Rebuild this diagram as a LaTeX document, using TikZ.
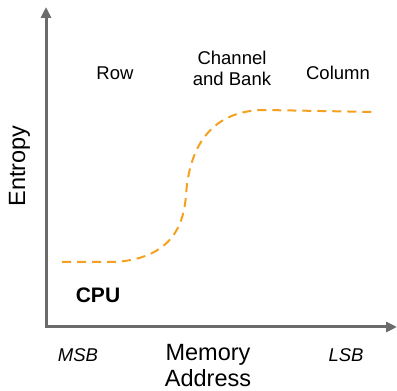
\documentclass[tikz,border=0pt]{standalone}
\usepackage{fontspec}
\setmainfont{Liberation Sans}
\usetikzlibrary{arrows.meta}
\definecolor{axisgray}{HTML}{6B6B6B}
\definecolor{curveorange}{HTML}{F5A01E}

\begin{document}
\begin{tikzpicture}[x=1pt,y=1pt,
		lbl/.style={inner sep=0pt, font=\fontsize{18.5}{21}\selectfont},
		biglbl/.style={inner sep=0pt, font=\fontsize{23.5}{26}\selectfont},
		axis/.style={line width=3pt, draw=axisgray, {Triangle[width=10pt,length=11pt]}-{Triangle[width=10pt,length=11pt]}},
		entropy/.style={curveorange, line width=2pt, dash pattern=on 9pt off 6pt}]
		\useasboundingbox (0,0) rectangle (397,391);
		% axes
		\coordinate (o) at (46,64);
		\coordinate (ytop) at (46,384);
		\coordinate (xend) at (397,64);
		\draw[axis] (ytop) -- (o) -- (xend);
		% entropy curve
		\coordinate (c0) at (62,129);
		\coordinate (c1) at (115,129);
		\coordinate (c2) at (186,196);
		\coordinate (c3) at (265,281);
		\coordinate (c4) at (376,279);
		\draw[entropy] (c0) -- (c1) .. controls (175,133) and (184,170) .. (c2)
			.. controls (190,255) and (220,281) .. (c3) -- (c4);
		% labels
		\node[lbl, anchor=base] (row) at (115,311) {Row};
		\node[lbl, align=center] (bank) at (232,323) {Channel\\and Bank};
		\node[lbl, anchor=base] (col) at (338,311) {Column};
		\node[biglbl, anchor=base, rotate=90] (ylab) at (25,225) {Entropy};
		\node[lbl, anchor=base, font=\fontsize{21}{24}\selectfont\bfseries] (cpu) at (98,88) {CPU};
		\node[lbl, anchor=base, font=\fontsize{18.5}{21}\selectfont\itshape] (msb) at (78,29) {MSB};
		\node[lbl, anchor=base, font=\fontsize{18.5}{21}\selectfont\itshape] (lsb) at (346,29) {LSB};
		\node[biglbl, align=center, anchor=north] (xlab) at (208,47) {Memory\\Address};
	\end{tikzpicture}
\end{document}
